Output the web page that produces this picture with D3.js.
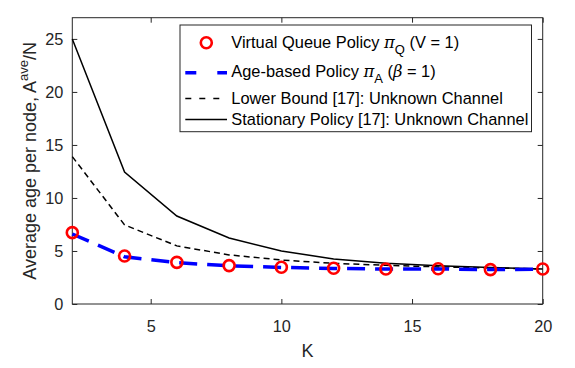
<!DOCTYPE html>
<html><head><meta charset="utf-8">
<script src="https://cdn.jsdelivr.net/npm/d3@7"></script>
<style>body{margin:0;background:#fff;} text{font-family:"Liberation Sans",Arial,sans-serif;}</style>
</head><body><svg id="c" width="575" height="368"></svg>
<script>
const K = [2,4,6,8,10,12,14,16,18,20];
const virtualQueue = [6.73,4.53,3.93,3.62,3.46,3.37,3.3,3.33,3.24,3.3];
const ageBased = [6.6,4.45,3.9,3.6,3.45,3.35,3.3,3.3,3.25,3.28];
const lowerBound = [13.9,7.46,5.48,4.63,4.15,3.84,3.65,3.5,3.4,3.3];
const stationary = [25,12.45,8.3,6.23,5.0,4.25,3.84,3.6,3.45,3.3];
const xTicks = [5,10,15,20];
const yTicks = [0,5,10,15,20,25];

const svg = d3.select("#c");
const L=72.3, R=542.7, T=17.7, B=304;
const x = d3.scaleLinear().domain([2,20]).range([L,R]);
const y = d3.scaleLinear().domain([0,27]).range([B,T]);
const ax = "#262626";

svg.append("rect").attr("x",L).attr("y",T).attr("width",R-L).attr("height",B-T)
  .attr("fill","none").attr("stroke",ax).attr("stroke-width",1);

const gx = svg.append("g").attr("transform",`translate(0,${B})`)
  .call(d3.axisBottom(x).tickValues(xTicks).tickSize(-5).tickPadding(16).tickFormat(d3.format("d")));
const gxt = svg.append("g").attr("transform",`translate(0,${T})`)
  .call(d3.axisTop(x).tickValues(xTicks).tickSize(-5).tickFormat(""));
const gy = svg.append("g").attr("transform",`translate(${L},0)`)
  .call(d3.axisLeft(y).tickValues(yTicks).tickSize(-5).tickPadding(9).tickFormat(d3.format("d")));
const gyr = svg.append("g").attr("transform",`translate(${R},0)`)
  .call(d3.axisRight(y).tickValues(yTicks).tickSize(-5).tickFormat(""));
[gx,gxt,gy,gyr].forEach(g=>{
  g.select(".domain").remove();
  g.selectAll("line").attr("stroke",ax);
  g.selectAll("text").attr("fill",ax).style("font-size","16.3px").style("font-family","Liberation Sans, Arial, sans-serif");
});

const line = d3.line().x((d,i)=>x(K[i])).y(d=>y(d));
const plot = svg.append("g");
plot.append("path").datum(stationary).attr("d",line).attr("fill","none").attr("stroke","#000").attr("stroke-width",1.5);
plot.append("path").datum(lowerBound).attr("d",line).attr("fill","none").attr("stroke","#000").attr("stroke-width",1.5).attr("stroke-dasharray","6,4");
plot.append("path").datum(ageBased).attr("d",line).attr("fill","none").attr("stroke","#0000ff").attr("stroke-width",3.5).attr("stroke-dasharray","18,10");
plot.selectAll("circle.vq").data(virtualQueue).join("circle").attr("class","vq")
  .attr("cx",(d,i)=>x(K[i])).attr("cy",d=>y(d)).attr("r",5.5)
  .attr("fill","none").attr("stroke","#ff0000").attr("stroke-width",2.6);

svg.append("text").attr("x",(L+R)/2).attr("y",357).attr("text-anchor","middle")
  .attr("fill",ax).style("font-size","18px").text("K");
const yl = svg.append("text").attr("transform",`translate(36,${(T+B)/2}) rotate(-90)`)
  .attr("text-anchor","middle").attr("fill",ax).style("font-size","18px");
yl.append("tspan").text("Average age per node, A");
yl.append("tspan").attr("dy",-8).style("font-size","13px").text("ave");
yl.append("tspan").attr("dy",8).text("/N");

const lg = svg.append("g");
lg.append("rect").attr("x",180).attr("y",25).attr("width",351.5).attr("height",106.7)
  .attr("fill","#fff").attr("stroke",ax).attr("stroke-width",1);
const fs = "16.4px";
const marks = [42.7,72.7,98.5,119.5];
const bases = [47.5,76.5,103.7,124.7];
const tx = 231.3;
lg.append("circle").attr("cx",206.3).attr("cy",marks[0]).attr("r",5.5).attr("fill","none").attr("stroke","#ff0000").attr("stroke-width",2.6);
lg.append("line").attr("x1",185.3).attr("x2",227).attr("y1",marks[1]).attr("y2",marks[1]).attr("stroke","#0000ff").attr("stroke-width",3.5).attr("stroke-dasharray","11,21");
lg.append("line").attr("x1",185.3).attr("x2",227).attr("y1",marks[2]).attr("y2",marks[2]).attr("stroke","#000").attr("stroke-width",1.5).attr("stroke-dasharray","6,8");
lg.append("line").attr("x1",185.3).attr("x2",227).attr("y1",marks[3]).attr("y2",marks[3]).attr("stroke","#000").attr("stroke-width",1.5);

function mk(yy){ return lg.append("text").attr("x",tx).attr("y",yy).attr("fill","#000").style("font-size",fs); }
let t1 = mk(bases[0]);
t1.append("tspan").text("Virtual Queue Policy ");
t1.append("tspan").style("font-family","DejaVu Serif, serif").style("font-style","italic").text("π");
t1.append("tspan").attr("dy",6).style("font-size","13px").text("Q");
t1.append("tspan").attr("dy",-6).text(" (V = 1)");
let t2 = mk(bases[1]);
t2.append("tspan").text("Age-based Policy ");
t2.append("tspan").style("font-family","DejaVu Serif, serif").style("font-style","italic").text("π");
t2.append("tspan").attr("dy",6).style("font-size","13px").text("A");
t2.append("tspan").attr("dy",-6).text(" (");
t2.append("tspan").style("font-family","DejaVu Serif, serif").style("font-style","italic").text("β");
t2.append("tspan").text(" = 1)");
mk(bases[2]).text("Lower Bound [17]: Unknown Channel");
mk(bases[3]).text("Stationary Policy [17]: Unknown Channel");
</script></body></html>
